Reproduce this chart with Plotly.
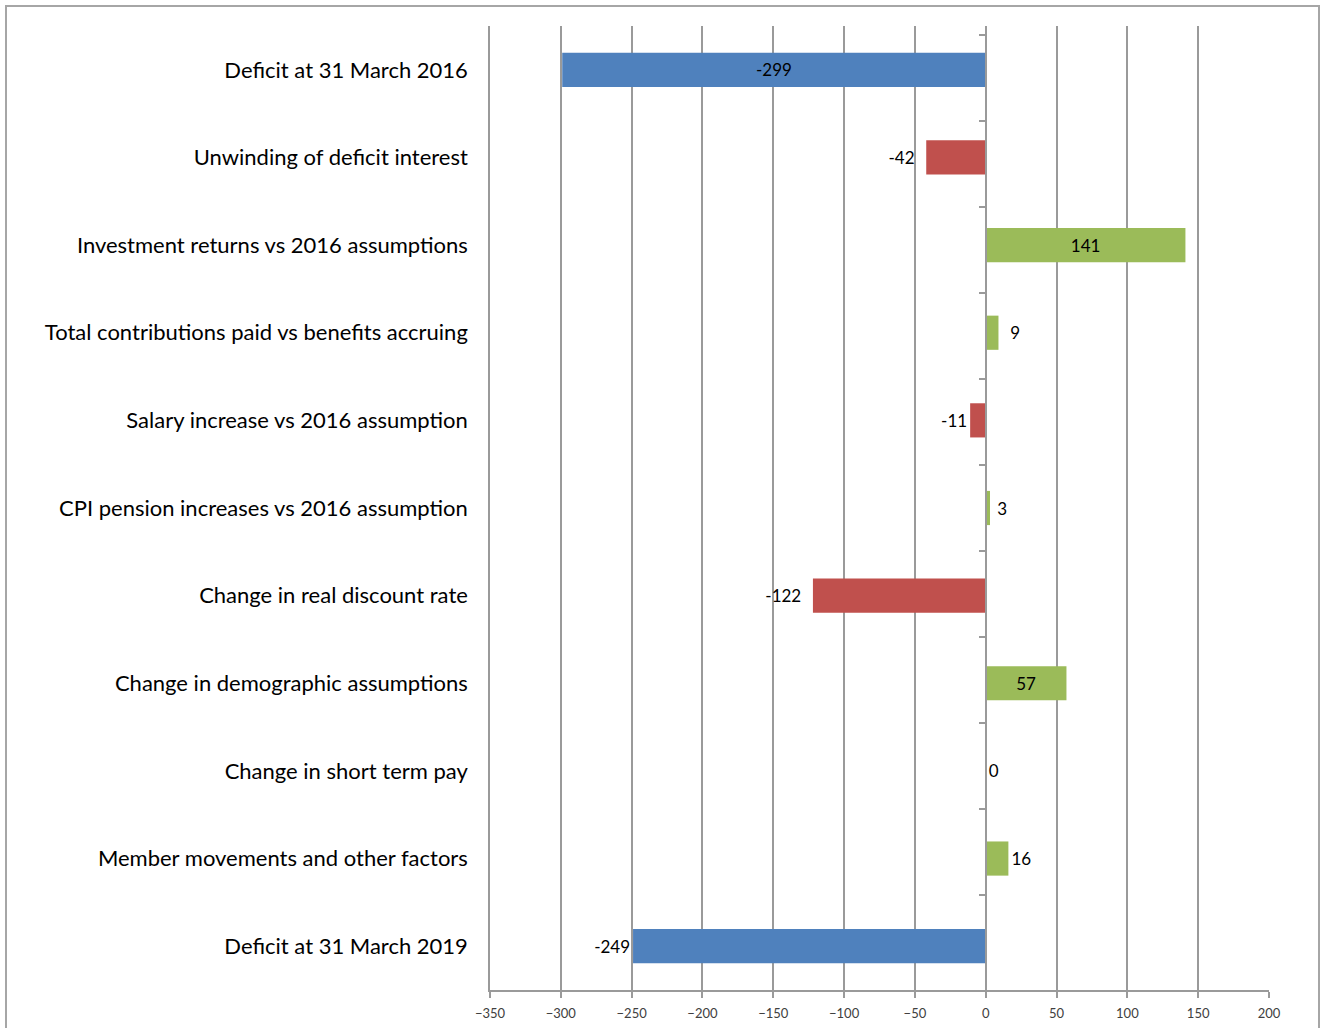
import plotly.graph_objects as go

categories = [
    "Deficit at 31 March 2016",
    "Unwinding of deficit interest",
    "Investment returns vs 2016 assumptions",
    "Total contributions paid vs benefits accruing",
    "Salary increase vs 2016 assumption",
    "CPI pension increases vs 2016 assumption",
    "Change in real discount rate",
    "Change in demographic assumptions",
    "Change in short term pay",
    "Member movements and other factors",
    "Deficit at 31 March 2019",
]
values = [-299, -42, 141, 9, -11, 3, -122, 57, 0, 16, -249]
kinds = ["total", "neg", "pos", "pos", "neg", "pos", "neg", "pos", "pos", "pos", "total"]
label_pos = ["inside", "outside", "inside", "outside", "outside", "outside",
             "outside", "inside", "outside", "outside", "outside"]
x_ticks = [-350, -300, -250, -200, -150, -100, -50, 0, 50, 100, 150, 200]

palette = {"total": "#4F81BD", "neg": "#C0504D", "pos": "#9BBB59"}
colors = [palette[k] for k in kinds]

NB = "\u00a0"
pad_before = [0, 0, 0, 2, 0, 1, 0, 0, 0, 0, 0]
pad_after = [0, 2, 0, 0, 0, 0, 2, 0, 0, 0, 0]
labels = [NB * b + str(v) + NB * a for v, b, a in zip(values, pad_before, pad_after)]

W, H = 1325, 1028
ML, MR, MT, MB = 490, 56, 26, 38
x_min, x_max = x_ticks[0], x_ticks[-1]
grid = "#9a9a9a"

fig = go.Figure()
fig.add_trace(go.Bar(
    x=values, y=categories, orientation="h",
    marker=dict(color=colors, line=dict(width=0)),
    width=0.39,
    text=labels,
    textposition=label_pos,
    insidetextanchor="middle",
    textfont=dict(family="Lato", size=17, color="#000000"),
    constraintext="none",
    cliponaxis=False,
    hoverinfo="x+y",
))
# invisible trace to drive the category ticks along the zero line
fig.add_trace(go.Scatter(
    x=values, y=categories, yaxis="y2", mode="markers",
    marker=dict(opacity=0), hoverinfo="skip", showlegend=False,
))

zero_pos = (0 - x_min) / (x_max - x_min)

fig.update_layout(
    width=W, height=H,
    margin=dict(l=ML, r=MR, t=MT, b=MB, autoexpand=False),
    paper_bgcolor="white", plot_bgcolor="white",
    showlegend=False,
    xaxis=dict(
        range=[x_min, x_max], tickvals=x_ticks, automargin=False,
        showgrid=True, gridcolor=grid, gridwidth=1.5,
        zeroline=True, zerolinecolor=grid, zerolinewidth=1.5,
        showline=True, linecolor=grid, linewidth=1.5,
        ticks="outside", ticklen=6, tickcolor=grid, tickwidth=1.5,
        ticklabelstandoff=5,
        tickfont=dict(family="Lato", size=13, color="#404040"),
        domain=[0, 1],
    ),
    yaxis=dict(
        type="category", categoryorder="array", categoryarray=categories,
        autorange="reversed", automargin=False,
        showgrid=False, zeroline=False,
        showline=True, linecolor=grid, linewidth=1.5,
        ticks="", ticklabelstandoff=16,
        tickfont=dict(family="Lato", size=22, color="#000000"),
    ),
    yaxis2=dict(
        type="category", categoryorder="array", categoryarray=categories,
        autorange="reversed", overlaying="y", anchor="free",
        position=zero_pos, side="left", automargin=False,
        showgrid=False, zeroline=False, showline=True,
        linecolor=grid, linewidth=1.5,
        ticks="outside", ticklen=6, tickcolor=grid, tickwidth=1.5,
        tickson="boundaries", showticklabels=False,
    ),
)

# outer chart border
pw = W - ML - MR
ph = H - MT - MB
fig.add_shape(
    type="rect", xref="paper", yref="paper",
    x0=(6 - ML) / pw, x1=(1319 - ML) / pw,
    y0=(H - MB - 1040) / ph, y1=(H - MB - 6) / ph,
    line=dict(color="#a6a6a6", width=2), fillcolor="rgba(0,0,0,0)",
    layer="below",
)

fig.write_html("out.html", config={"displayModeBar": False},
               post_script="document.body.style.margin='0';")
